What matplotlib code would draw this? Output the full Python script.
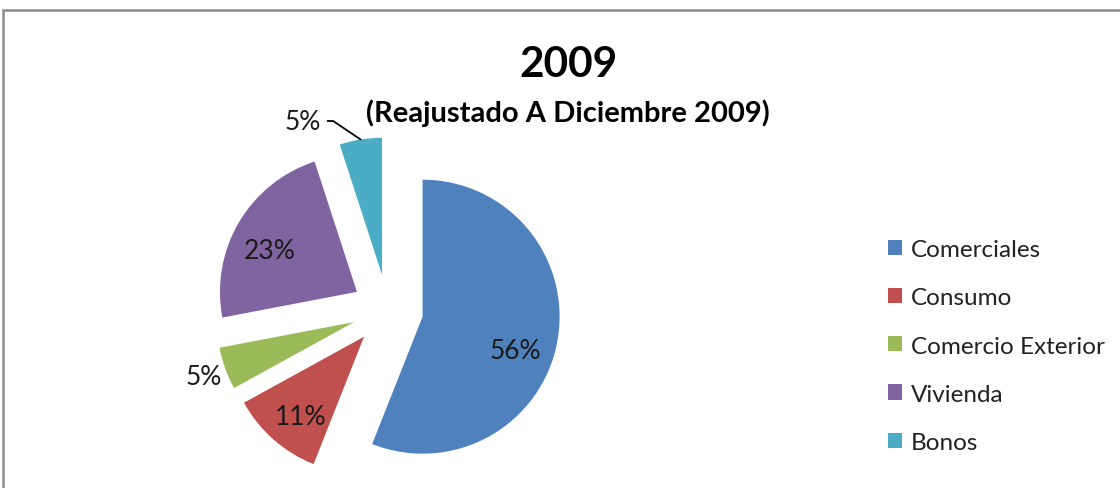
import numpy as np
import matplotlib.pyplot as plt
from matplotlib.patches import Rectangle

plt.rcParams['font.family'] = ['Lato', 'DejaVu Sans']

# datos
categorias = ['Comerciales', 'Consumo', 'Comercio Exterior', 'Vivienda', 'Bonos']
porcentajes = [56, 11, 5, 23, 5]
colores = ['#4F81BD', '#C0504D', '#9BBB59', '#8064A2', '#4BACC6']

W, H = 1120, 489
fig = plt.figure(figsize=(W / 100, H / 100), dpi=100)
fig.patch.set_facecolor('white')

# marco gris tipo Excel
fig.patches.append(Rectangle((3 / W, -0.2), 2.0, (H - 11) / H + 0.2, transform=fig.transFigure,
                             fill=False, edgecolor='#8c8c8c', linewidth=1.8))

# ejes del pastel (radio ~137 px, centro ~(388, 311) px)
r_px, L = 137, 1.6
cx, cy = 387.6, 311
ax = fig.add_axes([(cx - r_px * L) / W, (H - cy - r_px * L) / H, 2 * r_px * L / W, 2 * r_px * L / H])

wedges, texts, autotexts = ax.pie(
    porcentajes, colors=colores, explode=[0.26] * len(porcentajes),
    startangle=90, counterclock=False, autopct=lambda p: f'{p:.0f}%',
    pctdistance=0.7, wedgeprops=dict(linewidth=0),
    textprops=dict(fontsize=19, color='#1a1a1a'))
ax.set_xlim(-L, L)
ax.set_ylim(-L, L)
ax.set_aspect('equal')
ax.axis('off')

# pequeños ajustes (px) de las etiquetas interiores, como en Excel
ajustes = {0: (-1, -16), 1: (0, -8), 3: (-5, -7.5)}
for i, (dx, dy) in ajustes.items():
    x, y = autotexts[i].get_position()
    autotexts[i].set_position((x + dx / r_px, y + dy / r_px))

# etiqueta de Comercio Exterior fuera del sector
w = wedges[2]
ang = np.deg2rad((w.theta1 + w.theta2) / 2)
autotexts[2].set_position((w.center[0] + 1.17 * np.cos(ang), w.center[1] + 1.17 * np.sin(ang)))

# etiqueta de Bonos con línea guía
w = wedges[4]
ang = np.deg2rad((w.theta1 + w.theta2) / 2)
punto = (w.center[0] + np.cos(ang), w.center[1] + np.sin(ang))
ang_t = ang + np.deg2rad(18)
texto_pos = (w.center[0] + 1.28 * np.cos(ang_t), w.center[1] + 1.26 * np.sin(ang_t))
autotexts[4].set_visible(False)
ax.annotate(autotexts[4].get_text(), xy=punto, xytext=texto_pos, fontsize=19, color='#1a1a1a',
            ha='center', va='center',
            arrowprops=dict(arrowstyle='-', color='black', lw=1.3, relpos=(1, 0.5),
                            shrinkA=3, shrinkB=0,
                            connectionstyle='angle,angleA=0,angleB=-34,rad=0'))

# títulos
fig.text(568 / W, 1 - 65 / H, '2009', fontsize=30.5, fontweight='bold', ha='center', va='center')
fig.text(568 / W, 1 - 113 / H, '(Reajustado A Diciembre 2009)', fontsize=21, fontweight='bold',
         ha='center', va='center')

# leyenda
fig.legend(wedges, categorias, loc='center left', bbox_to_anchor=(888 / W, 1 - 347 / H),
           frameon=False, fontsize=17.5, handlelength=0.58, handleheight=0.58, handletextpad=0.37,
           labelspacing=1.115, borderpad=0, borderaxespad=0, labelcolor='#222222')

fig.savefig('out.png', dpi=100, facecolor='white')
